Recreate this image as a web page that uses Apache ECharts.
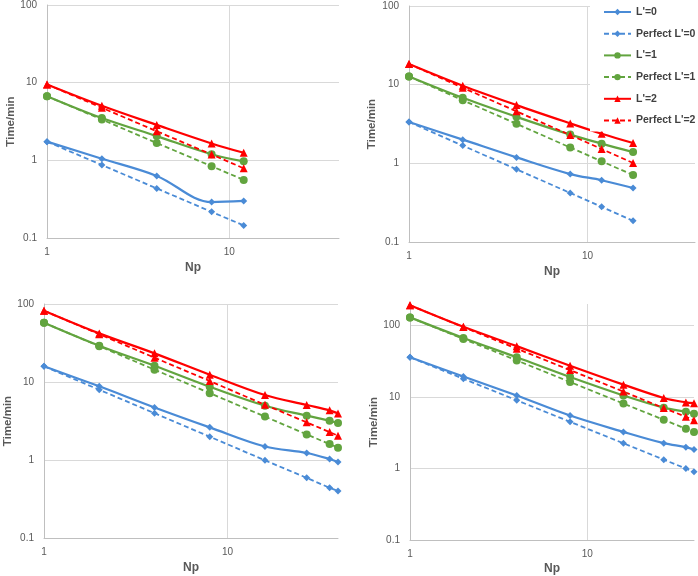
<!DOCTYPE html>
<html><head><meta charset="utf-8">
<script src="https://cdn.jsdelivr.net/npm/echarts@6/dist/echarts.min.js"></script>
<style>html,body{margin:0;padding:0;background:#fff}#c{width:698px;height:576px}</style>
</head><body><div id="c"></div>
<script>
// ---- data ----
const seriesNames = ["L'=0", "Perfect L'=0", "L'=1", "Perfect L'=1", "L'=2", "Perfect L'=2"];
const xTitle = "Np";
const yTitle = "Time/min";

// panel 1 (top-left)
const np1 = [1, 2, 4, 8, 12];
const p1L0 = [1.74, 1.05, 0.63, 0.29, 0.30];
const p1P0 = [1.74, 0.87, 0.435, 0.217, 0.145];
const p1L1 = [6.7, 3.5, 2.05, 1.2, 0.97];
const p1P1 = [6.7, 3.35, 1.67, 0.84, 0.56];
const p1L2 = [9.5, 5.05, 2.86, 1.65, 1.25];
const p1P2 = [9.5, 4.75, 2.37, 1.19, 0.79];

// panel 2 (top-right)
const np2 = [1, 2, 4, 8, 12, 18];
const p2L0 = [3.35, 2.0, 1.19, 0.73, 0.61, 0.485];
const p2P0 = [3.35, 1.68, 0.84, 0.42, 0.28, 0.186];
const p2L1 = [12.7, 6.8, 3.9, 2.32, 1.78, 1.39];
const p2P1 = [12.7, 6.35, 3.18, 1.59, 1.06, 0.71];
const p2L2 = [18.3, 9.7, 5.5, 3.22, 2.38, 1.81];
const p2P2 = [18.3, 9.15, 4.58, 2.29, 1.52, 1.01];

// panel 3 (bottom-left)
const np3 = [1, 2, 4, 8, 16, 27, 36, 40];
const p3L0 = [15.9, 8.8, 4.72, 2.62, 1.49, 1.23, 1.03, 0.94];
const p3P0 = [15.9, 7.95, 3.98, 1.99, 0.99, 0.59, 0.44, 0.40];
const p3L1 = [57.5, 29.2, 16.2, 8.7, 4.97, 3.7, 3.19, 2.98];
const p3P1 = [57.5, 28.8, 14.4, 7.2, 3.6, 2.13, 1.6, 1.44];
const p3L2 = [82, 42, 23.3, 12.4, 6.8, 5.07, 4.33, 3.96];
const p3P2 = [82, 41, 20.5, 10.3, 5.1, 3.04, 2.28, 2.05];

// panel 4 (bottom-right)
const np4 = [1, 2, 4, 8, 16, 27, 36, 40];
const p4L0 = [36, 19.4, 10.5, 5.5, 3.25, 2.26, 1.99, 1.84];
const p4P0 = [36, 18, 9, 4.5, 2.25, 1.33, 1.0, 0.9];
const p4L1 = [130, 67, 36, 19, 10.5, 7.1, 6.2, 5.85];
const p4P1 = [130, 65, 32.5, 16.2, 8.1, 4.8, 3.6, 3.25];
const p4L2 = [192, 96, 51.5, 27.4, 14.9, 9.7, 8.4, 8.2];
const p4P2 = [192, 95, 47.5, 23.8, 11.9, 7.0, 5.3, 4.75];

const xMax = [40, 40, 40, 40];
const yMin = [0.1, 0.1, 0.1, 0.1];
const yMax = [100, 100, 100, 200];

const panels = [
  {np: np1, vals: [p1L0, p1P0, p1L1, p1P1, p1L2, p1P2]},
  {np: np2, vals: [p2L0, p2P0, p2L1, p2P1, p2L2, p2P2]},
  {np: np3, vals: [p3L0, p3P0, p3L1, p3P1, p3L2, p3P2]},
  {np: np4, vals: [p4L0, p4P0, p4L1, p4P1, p4L2, p4P2]}
];

// ---- layout / style ----
const FONT = "'Liberation Sans', Arial, sans-serif";
const grids = [
  {left: 47, top: 4, width: 292, height: 234},
  {left: 409, top: 6, width: 288, height: 236},
  {left: 44, top: 304, width: 294, height: 234},
  {left: 410, top: 304, width: 284, height: 237}
];
const yNameGap = [29, 31, 29, 27];
const xNameGap = [24, 24, 24, 23];
const colors = ['#4a8bd6', '#4a8bd6', '#62a43f', '#62a43f', '#ff0000', '#ff0000'];
const symbols = ['diamond', 'diamond', 'circle', 'circle', 'triangle', 'triangle'];
const symSizes = [7, 7, 8, 8, 8, 8];

function pow10Label(v) {
  const l = Math.log10(v);
  if (Math.abs(l - Math.round(l)) < 1e-6) return String(+v.toPrecision(6));
  return '';
}

const xAxes = [], yAxes = [], series = [];
grids.forEach((g, i) => {
  xAxes.push({
    type: 'log', logBase: 10, gridIndex: i, min: 1, max: xMax[i],
    name: xTitle, nameLocation: 'middle', nameGap: xNameGap[i],
    nameTextStyle: {fontWeight: 'bold', fontSize: 12, color: '#595959', fontFamily: FONT},
    axisLine: {show: true, onZero: false, lineStyle: {color: '#bfbfbf', width: 1}},
    axisTick: {show: false},
    axisLabel: {formatter: pow10Label, color: '#595959', fontSize: 10, margin: 9, fontFamily: FONT},
    splitLine: {show: true, showMinLine: false, showMaxLine: false, lineStyle: {color: '#d9d9d9', width: 1}}
  });
  yAxes.push({
    type: 'log', logBase: 10, gridIndex: i, min: yMin[i], max: yMax[i],
    name: yTitle, nameLocation: 'middle', nameGap: yNameGap[i], nameRotate: 90,
    nameTextStyle: {fontWeight: 'bold', fontSize: 11.5, color: '#595959', fontFamily: FONT},
    axisLine: {show: true, onZero: false, lineStyle: {color: '#bfbfbf', width: 1}},
    axisTick: {show: false},
    axisLabel: {formatter: pow10Label, color: '#595959', fontSize: 10, margin: 10, fontFamily: FONT},
    splitLine: {show: true, showMinLine: false, showMaxLine: i !== 3, lineStyle: {color: '#d9d9d9', width: 1}}
  });
  const p = panels[i];
  seriesNames.forEach((nm, k) => {
    const dashed = k % 2 === 1;
    series.push({
      name: nm, type: 'line', xAxisIndex: i, yAxisIndex: i,
      data: p.np.map((x, j) => [x, p.vals[k][j]]),
      smooth: dashed ? false : 0.35,
      symbol: symbols[k], symbolSize: symSizes[k], showSymbol: true,
      clip: false,
      color: colors[k],
      itemStyle: {color: colors[k]},
      lineStyle: {color: colors[k], width: dashed ? 1.8 : 2.2, type: dashed ? [5, 3] : 'solid'},
      emphasis: {disabled: true},
      animation: false
    });
  });
});

const chart = echarts.init(document.getElementById('c'), null, {renderer: 'canvas'});
chart.setOption({
  backgroundColor: '#ffffff',
  animation: false,
  textStyle: {fontFamily: FONT},
  grid: grids.map(g => Object.assign({containLabel: false}, g)),
  xAxis: xAxes,
  yAxis: yAxes,
  legend: {
    data: seriesNames, orient: 'vertical', left: 590, top: 3,
    itemWidth: 27, itemHeight: 8, itemGap: 7.7,
    padding: [2, 4, 4, 13], backgroundColor: '#ffffff',
    textStyle: {fontWeight: 'bold', fontSize: 10.5, lineHeight: 14, color: '#404040', fontFamily: FONT},
    selectedMode: false
  },
  series: series
});
</script>
</body></html>
